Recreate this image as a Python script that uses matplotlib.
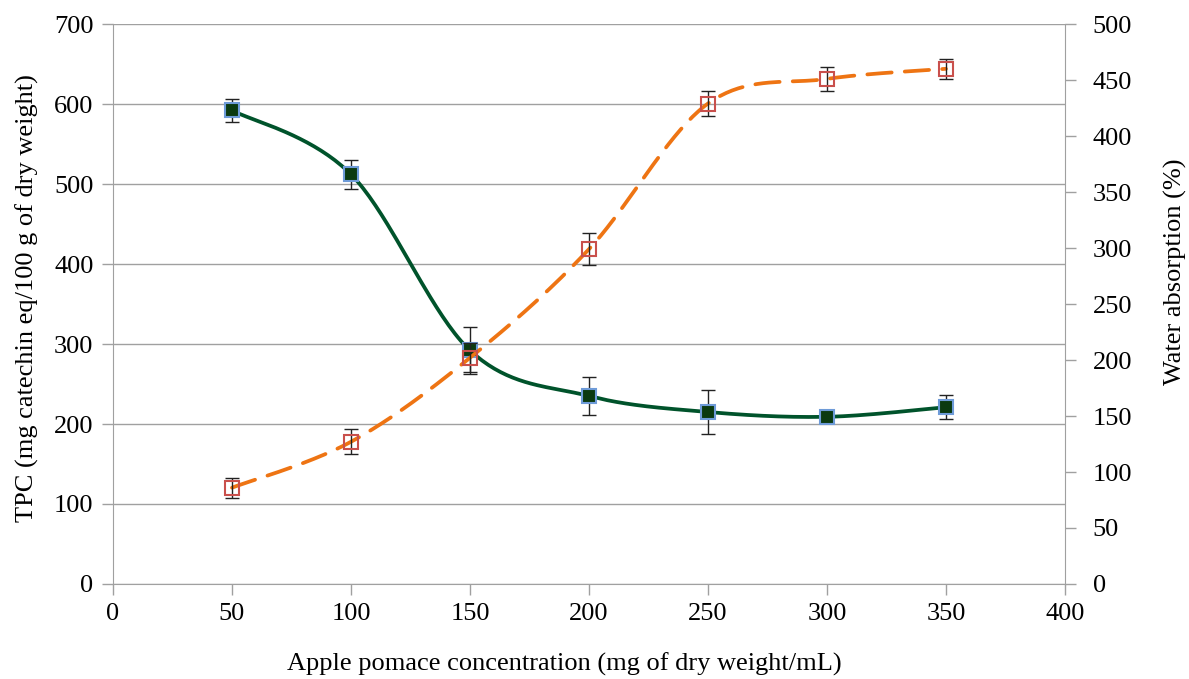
import numpy as np
import matplotlib
matplotlib.use("Agg")
import matplotlib.pyplot as plt

plt.rcParams['font.family'] = ['Liberation Serif', 'DejaVu Serif']

concentration = [50, 100, 150, 200, 250, 300, 350]
tpc = [592, 512, 292, 235, 215, 209, 221]
tpc_err = [14, 18, 29, 24, 27, 5, 15]
water = [86, 127, 202, 299, 429, 451, 460]
water_err = [9, 11, 13, 14, 11, 11, 9]

x_ticks = [0, 50, 100, 150, 200, 250, 300, 350, 400]
left_ticks = [0, 100, 200, 300, 400, 500, 600, 700]
right_ticks = [0, 50, 100, 150, 200, 250, 300, 350, 400, 450, 500]


def smooth(ax, xs, ys, n=40):
    # Excel-like smoothing: Catmull-Rom in display coordinates
    pts = ax.transData.transform(np.column_stack([xs, ys]))
    P = np.vstack([pts[0], pts, pts[-1]])
    out = []
    for i in range(1, len(P) - 2):
        p0, p1, p2, p3 = P[i - 1], P[i], P[i + 1], P[i + 2]
        t = np.linspace(0, 1, n)[:, None]
        c = 0.5 * ((2 * p1) + (-p0 + p2) * t + (2 * p0 - 5 * p1 + 4 * p2 - p3) * t ** 2
                   + (-p0 + 3 * p1 - 3 * p2 + p3) * t ** 3)
        out.append(c)
    out = np.vstack(out)
    d = ax.transData.inverted().transform(out)
    return d[:, 0], d[:, 1]


fig = plt.figure(figsize=(11.89, 6.79), dpi=100)
ax = fig.add_axes([113 / 1189, 1 - 584 / 679, (1065 - 113) / 1189, (584 - 24) / 679])
ax2 = ax.twinx()

ax.set_xlim(0, 400)
ax.set_ylim(0, 700)
ax2.set_ylim(0, 500)

grey = '#A0A0A0'
for a in (ax, ax2):
    for s in a.spines.values():
        s.set_visible(False)
ax.spines['left'].set_visible(True)
ax.spines['bottom'].set_visible(True)
ax2.spines['right'].set_visible(True)
ax.spines['left'].set_color(grey)
ax.spines['bottom'].set_color(grey)
ax2.spines['right'].set_color(grey)

fs = 19
ax.set_xticks(x_ticks)
ax.set_yticks(left_ticks)
ax2.set_yticks(right_ticks)
ax.tick_params(axis='both', colors=grey, labelcolor='black', labelsize=fs, length=8, width=1)
ax2.tick_params(axis='y', colors=grey, labelcolor='black', labelsize=fs, length=8, width=1, pad=12)
ax.tick_params(axis='x', pad=6)
ax.tick_params(axis='y', pad=6)
ax.grid(axis='y', color=grey, linewidth=1)
ax.set_axisbelow(True)

fig.canvas.draw()

# TPC line
sx, sy = smooth(ax, concentration, tpc)
ax.plot(sx, sy, color='#00532B', linewidth=2.7, zorder=3)
ax.errorbar(concentration, tpc, yerr=tpc_err, fmt='none', ecolor='#222222',
            elinewidth=1, capsize=5, capthick=1, zorder=4)
ax.plot(concentration, tpc, linestyle='none', marker='s', markersize=10,
        markerfacecolor='#0B3A10', markeredgecolor='#6E9BD8', markeredgewidth=1.5, zorder=5)

# Water absorption line
wx, wy = smooth(ax2, concentration, water)
ax2.plot(wx, wy, color='#EE7413', linewidth=2.7, linestyle=(0, (6.5, 3.5)),
         dash_capstyle='round', zorder=3)
ax2.errorbar(concentration, water, yerr=water_err, fmt='none', ecolor='#222222',
             elinewidth=1, capsize=5, capthick=1, zorder=4)
ax2.plot(concentration, water, linestyle='none', marker='s', markersize=10,
         markerfacecolor='none', markeredgecolor='#C9504C', markeredgewidth=1.5, zorder=5)

xl = ax.set_xlabel('Apple pomace concentration (mg of dry weight/mL)', fontsize=fs)
ax.xaxis.set_label_coords((564 - 113) / 952, (584 - 664) / 560)
xl.set_va('center')
yl = ax.set_ylabel('TPC (mg catechin eq/100 g of dry weight)', fontsize=fs)
ax.yaxis.set_label_coords((27 - 113) / 952, (584 - 298) / 560)
yl.set_va('center')
yr = ax2.set_ylabel('Water absorption (%)', fontsize=fs)
ax2.yaxis.set_label_coords((1175 - 113) / 952, (584 - 272) / 560)
yr.set_va('center')

fig.savefig('out.png', dpi=100)
